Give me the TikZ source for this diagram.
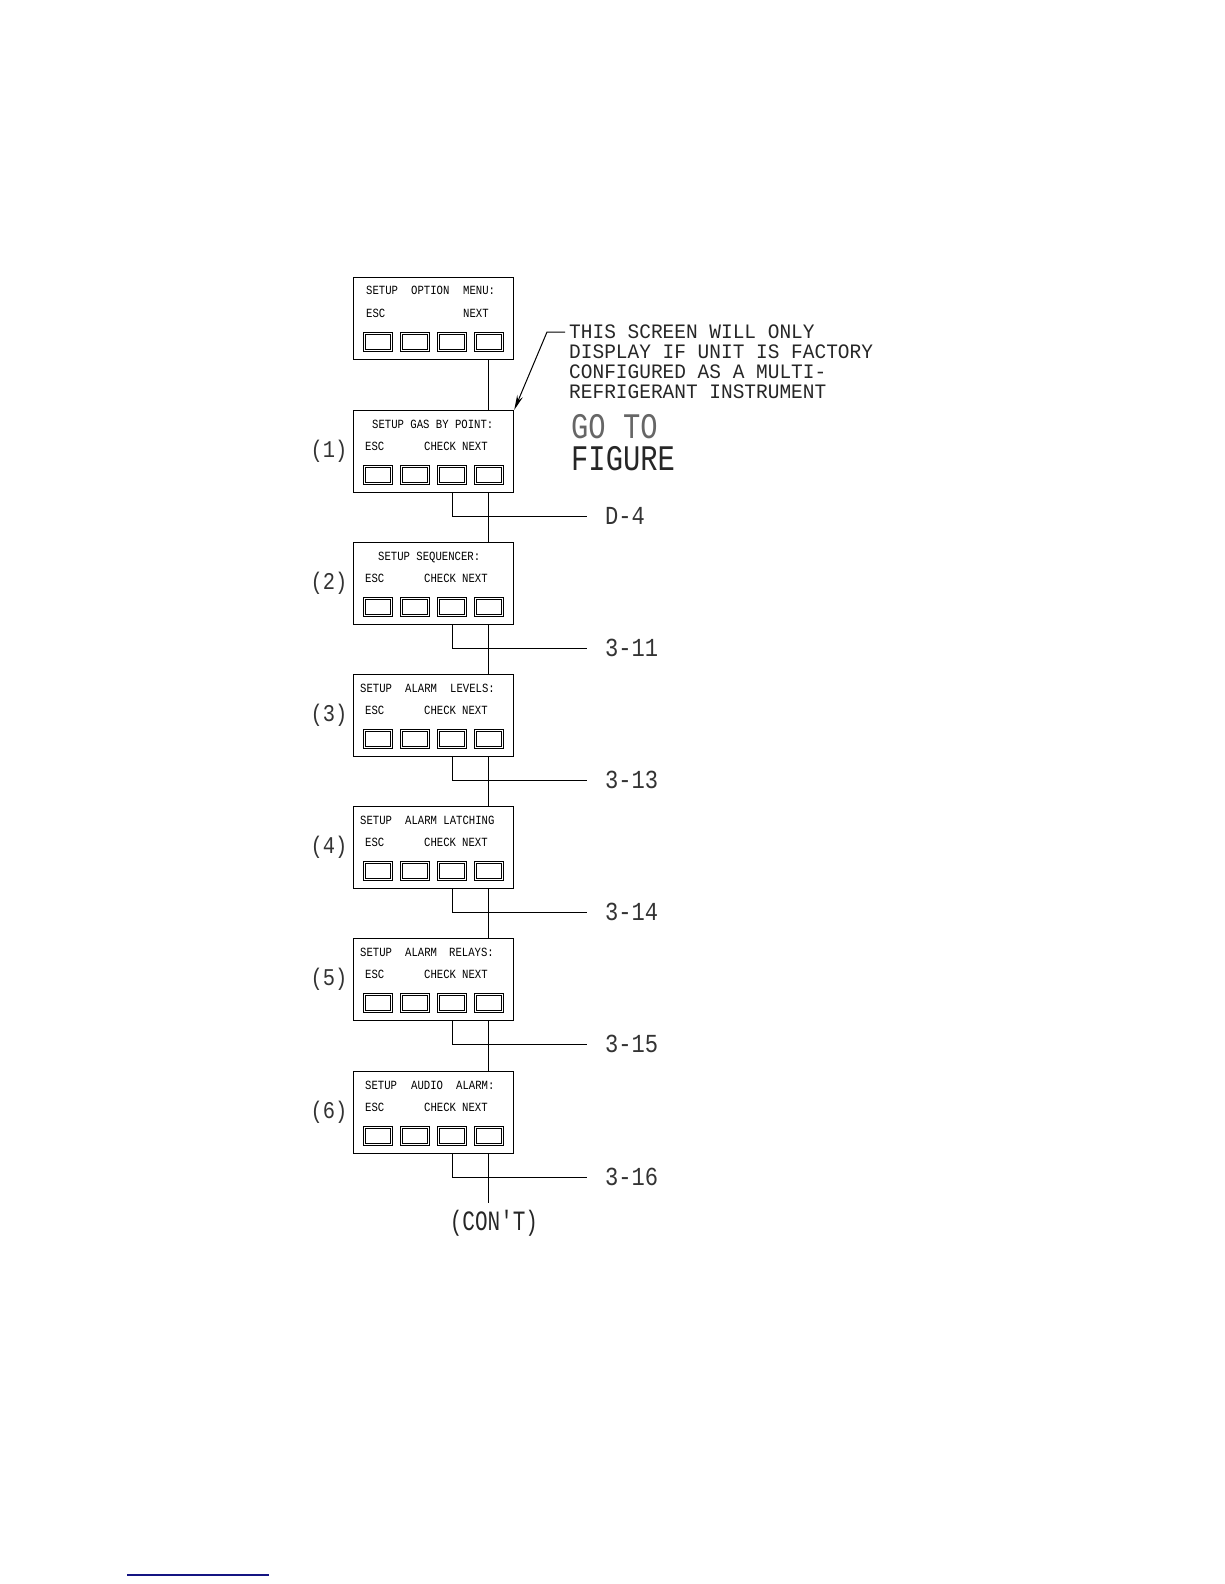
\documentclass[tikz,border=0pt]{standalone}
\usepackage{fontspec}
\usetikzlibrary{arrows.meta}
\newfontfamily\cadA[FakeStretch=0.85]{Liberation Mono}
\newfontfamily\cadB[FakeStretch=0.95]{Liberation Mono}
\newfontfamily\cadC[FakeStretch=0.75]{Liberation Mono}
\newfontfamily\cadD[FakeStretch=0.8]{Liberation Mono}
\newcommand\myscreen[2]{%
  \node[scr] (#1) at (353,#2) {};
  \foreach \i/\xx in {1/377.5,2/414.5,3/452,4/488.5}{
    \node[btn] (#1b\i) at (\xx,#2+65) {};
    \draw[btnin] ([xshift=2.4pt,yshift=-2.4pt]#1b\i.north west) rectangle ([xshift=-2.4pt,yshift=2.4pt]#1b\i.south east);
  }
}
\begin{document}
\begin{tikzpicture}[x=1pt,y=-1pt,
  scr/.style={draw, line width=1.2pt, minimum width=160pt, minimum height=82pt, anchor=north west, inner sep=0pt},
  btn/.style={draw, line width=0.9pt, minimum width=29pt, minimum height=19pt, inner sep=0pt},
  btnin/.style={line width=0.9pt},
  sm/.style={anchor=base west, inner sep=0pt, font=\fontsize{12.5}{12.5}\cadA},
  big/.style={anchor=base west, inner sep=0pt, font=\fontsize{20.5}{20.5}\cadB, text=black!85},
  refl/.style={anchor=west, inner sep=0pt, font=\fontsize{26}{26}\cadA, text=black!80},
  num/.style={anchor=center, inner sep=0pt, font=\fontsize{24}{24}\cadA, text=black!80},
  goto/.style={anchor=base west, inner sep=0pt, text height=24pt, text depth=0pt, font=\fontsize{36}{36}\cadD},
  wire/.style={line width=1pt}]
\useasboundingbox (0,0) rectangle (1224,1584);

% screens
\myscreen{s0}{277}
\myscreen{s1}{410}
\myscreen{s2}{542}
\myscreen{s3}{674}
\myscreen{s4}{806}
\myscreen{s5}{938}
\myscreen{s6}{1071}

% screen texts
\node[sm] (t0a) at (366,294) {SETUP};
\node[sm] (t0b) at (411,294) {OPTION};
\node[sm] (t0c) at (463,294) {MENU:};
\node[sm] (t0d) at (366,317) {ESC};
\node[sm] (t0e) at (463,317) {NEXT};

\node[sm] (t1a) at (372,428) {SETUP GAS BY POINT:};
\node[sm] (t1b) at (365,450) {ESC};
\node[sm] (t1c) at (424,450) {CHECK};
\node[sm] (t1d) at (462,450) {NEXT};

\node[sm] (t2a) at (378,560) {SETUP SEQUENCER:};
\node[sm] (t2b) at (365,582) {ESC};
\node[sm] (t2c) at (424,582) {CHECK};
\node[sm] (t2d) at (462,582) {NEXT};

\node[sm] (t3a) at (360,692) {SETUP};
\node[sm] (t3b) at (405,692) {ALARM};
\node[sm] (t3c) at (450,692) {LEVELS:};
\node[sm] (t3d) at (365,714) {ESC};
\node[sm] (t3e) at (424,714) {CHECK};
\node[sm] (t3f) at (462,714) {NEXT};

\node[sm] (t4a) at (360,824) {SETUP};
\node[sm] (t4b) at (405,824) {ALARM LATCHING};
\node[sm] (t4c) at (365,846) {ESC};
\node[sm] (t4d) at (424,846) {CHECK};
\node[sm] (t4e) at (462,846) {NEXT};

\node[sm] (t5a) at (360,956) {SETUP};
\node[sm] (t5b) at (405,956) {ALARM};
\node[sm] (t5c) at (449,956) {RELAYS:};
\node[sm] (t5d) at (365,978) {ESC};
\node[sm] (t5e) at (424,978) {CHECK};
\node[sm] (t5f) at (462,978) {NEXT};

\node[sm] (t6a) at (365,1089) {SETUP};
\node[sm] (t6b) at (411,1089) {AUDIO};
\node[sm] (t6c) at (456,1089) {ALARM:};
\node[sm] (t6d) at (365,1111) {ESC};
\node[sm] (t6e) at (424,1111) {CHECK};
\node[sm] (t6f) at (462,1111) {NEXT};

% step numbers
\node[num] (p1) at (329,451) {(1)};
\node[num] (p2) at (329,583) {(2)};
\node[num] (p3) at (329,715) {(3)};
\node[num] (p4) at (329,847) {(4)};
\node[num] (p5) at (329,979) {(5)};
\node[num] (p6) at (329,1112) {(6)};

% NEXT line (vertical)
\draw[wire] (s0.south -| s0b4) -- (s1.north -| s0b4);
\draw[wire] (s1.south -| s1b4) -- (s2.north -| s1b4);
\draw[wire] (s2.south -| s2b4) -- (s3.north -| s2b4);
\draw[wire] (s3.south -| s3b4) -- (s4.north -| s3b4);
\draw[wire] (s4.south -| s4b4) -- (s5.north -| s4b4);
\draw[wire] (s5.south -| s5b4) -- (s6.north -| s5b4);
\coordinate (endc) at (488.5,1203);
\draw[wire] (s6.south -| s6b4) -- (endc);
\node[anchor=base, inner sep=0pt, font=\fontsize{28}{28}\cadC, text=black!85] (cont) at (494,1230) {(CON'T)};

% CHECK branches
\foreach \k/\yy/\lab in {1/516/D-4, 2/648/3-11, 3/780/3-13, 4/912/3-14, 5/1044/3-15, 6/1177/3-16}{
  \coordinate (h\k) at (587,\yy);
  \draw[wire] (s\k.south -| s\k b3) |- (h\k);
  \node[refl] (r\k) at (605,\yy) {\lab};
}

% note
\node[big] (n1) at (569,338) {THIS SCREEN WILL ONLY};
\node[big] (n2) at (569,358) {DISPLAY IF UNIT IS FACTORY};
\node[big] (n3) at (569,378) {CONFIGURED AS A MULTI-};
\node[big] (n4) at (569,398) {REFRIGERANT INSTRUMENT};
\coordinate (nk) at (547,332);
\draw[wire, -{Stealth[length=15pt,width=6pt]}] (565,332) -- (nk) -- (s1.north east);

\node[goto, text=black!60] (g1) at (571,438) {GO TO};
\node[goto, text=black!85] (g2) at (571,470) {FIGURE};

% blue rule
\draw[line width=2pt, color={rgb,255:red,20;green,20;blue,130}] (127,1575) -- (269,1575);
\end{tikzpicture}
\end{document}
